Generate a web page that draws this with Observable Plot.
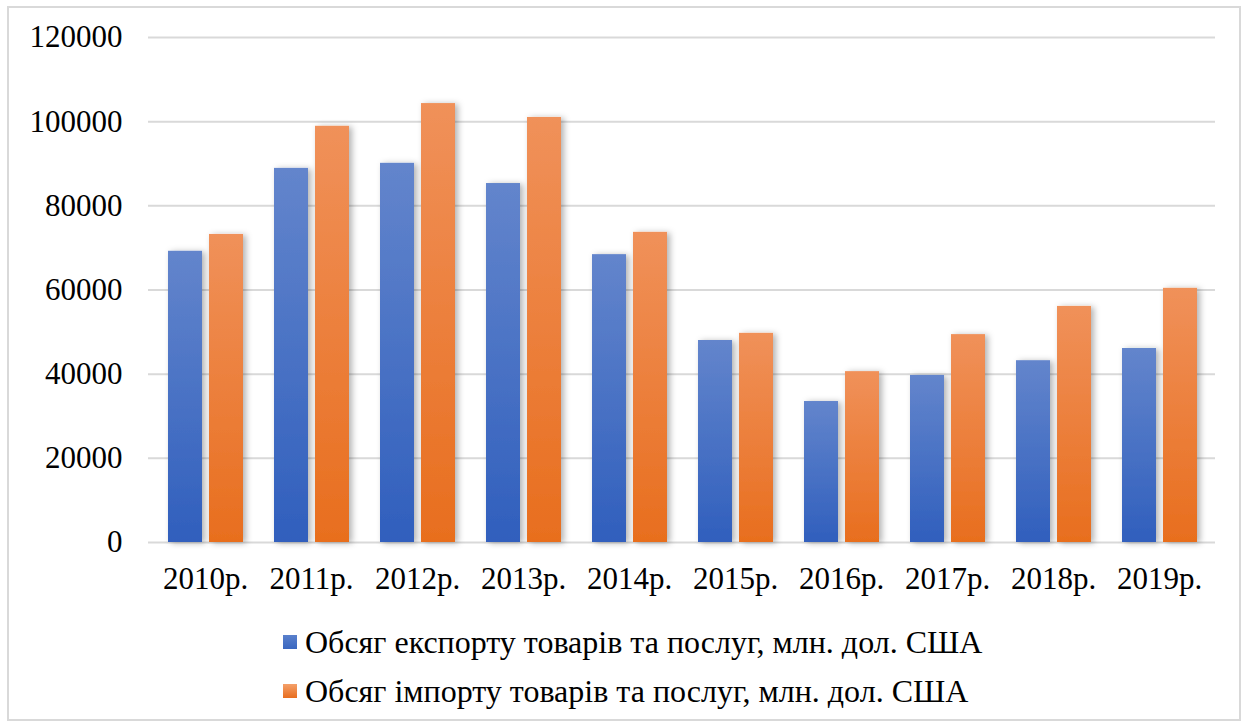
<!DOCTYPE html>
<html><head><meta charset="utf-8">
<script src="https://cdn.jsdelivr.net/npm/d3@7"></script>
<script src="https://cdn.jsdelivr.net/npm/@observablehq/plot@0.6"></script>
<style>
body{margin:0;background:#fff;}
#wrap{position:relative;width:1247px;height:725px;overflow:hidden;font-family:"Liberation Serif","Times New Roman",serif;background:#fff;}
#frame{position:absolute;left:7px;top:6px;width:1230px;height:711px;border:2px solid #d9d9d9;pointer-events:none;}
#chart{position:absolute;left:0;top:0;}
.lg{position:absolute;left:283px;font-size:32px;line-height:36px;color:#000;white-space:nowrap;display:flex;align-items:center;}
.sw{display:inline-block;width:14px;height:14px;margin-right:8px;}
</style></head>
<body>
<div id="wrap">
  <div id="frame"></div>
  <div id="chart"></div>
  <div class="lg" style="top:624px"><span class="sw" style="background:linear-gradient(#5a80cc,#3a67c0)"></span><span id="l1"></span></div>
  <div class="lg" style="top:673px"><span class="sw" style="background:linear-gradient(#f4a06a,#e86d1e)"></span><span id="l2"></span></div>
</div>
<script>
const years = ["2010р.","2011р.","2012р.","2013р.","2014р.","2015р.","2016р.","2017р.","2018р.","2019р."];
const exportVals = [69200, 88900, 90100, 85300, 68400, 48000, 33500, 39700, 43200, 46100];
const importVals = [73200, 98900, 104300, 101000, 73700, 49700, 40600, 49400, 56100, 60400];
const yTicks = [0, 20000, 40000, 60000, 80000, 100000, 120000];
const seriesNames = ["Обсяг експорту товарів та послуг, млн. дол. США", "Обсяг імпорту товарів та послуг, млн. дол. США"];

document.getElementById("l1").textContent = seriesNames[0];
document.getElementById("l2").textContent = seriesNames[1];

const exportData = years.map((y, i) => ({year: y, value: exportVals[i]}));
const importData = years.map((y, i) => ({year: y, value: importVals[i]}));

const chart = Plot.plot({
  width: 1247,
  height: 612,
  marginLeft: 148,
  marginRight: 32,
  marginTop: 37,
  marginBottom: 70,
  style: {fontFamily: '"Liberation Serif","Times New Roman",serif', fontSize: "31px", color: "#000", background: "transparent"},
  x: {domain: years, padding: 0, label: null, tickSize: 0, tickPadding: 24},
  y: {domain: [0, 120000], label: null, ticks: yTicks, tickSize: 0, tickPadding: 26, tickFormat: d => String(d)},
  marks: [
    Plot.ruleY(yTicks, {stroke: "#d9d9d9", strokeWidth: 2}),
    Plot.barY(exportData, {x: "year", y: "value", fill: "url(#gBlue)", insetLeft: 16, insetRight: 56}),
    Plot.barY(importData, {x: "year", y: "value", fill: "url(#gOrange)", insetLeft: 57, insetRight: 15})
  ]
});
document.getElementById("chart").appendChild(chart);
const svg = d3.select(chart);
svg.insert("defs", ":first-child").html(`
  <linearGradient id="gBlue" x1="0" y1="0" x2="0" y2="1">
    <stop offset="0" stop-color="#6385cc"/><stop offset="1" stop-color="#305fbd"/>
  </linearGradient>
  <linearGradient id="gOrange" x1="0" y1="0" x2="0" y2="1">
    <stop offset="0" stop-color="#f0915a"/><stop offset="1" stop-color="#e86e1e"/>
  </linearGradient>
  <filter id="shd" x="-30%" y="-10%" width="170%" height="125%">
    <feDropShadow dx="3" dy="1" stdDeviation="3" flood-color="#000" flood-opacity="0.3"/>
  </filter>`);
svg.selectAll("rect").filter(function(){ const f = this.getAttribute("fill") || (this.parentNode && this.parentNode.getAttribute("fill")); return f && f.startsWith("url"); }).attr("filter", "url(#shd)");
svg.selectAll("g[aria-label='bar'] rect").attr("filter", "url(#shd)");
</script>
</body></html>
